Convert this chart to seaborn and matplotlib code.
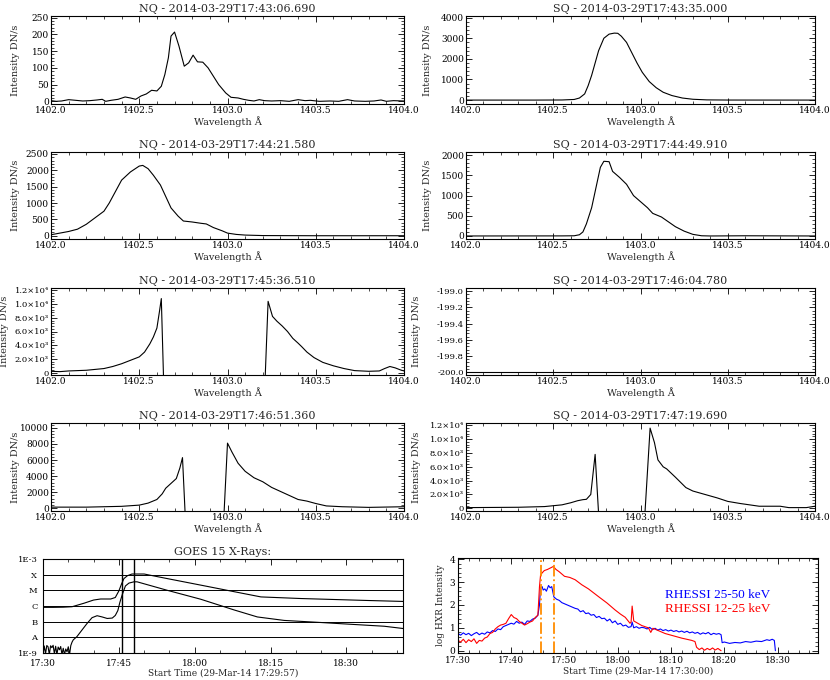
import numpy as np
import pandas as pd
import matplotlib
matplotlib.use("Agg")
import matplotlib.pyplot as plt
import seaborn as sns
from matplotlib.ticker import AutoMinorLocator, MultipleLocator, FuncFormatter, FormatStrFormatter

# %% DATA
nq1_wl = [1402.00, 1402.03, 1402.06, 1402.10, 1402.14, 1402.18, 1402.22, 1402.26, 1402.29, 1402.31,
          1402.34, 1402.38, 1402.42, 1402.45, 1402.48, 1402.51, 1402.54, 1402.57, 1402.60, 1402.625,
          1402.645, 1402.665, 1402.68, 1402.70, 1402.725, 1402.755, 1402.78, 1402.805, 1402.83, 1402.86,
          1402.89, 1402.92, 1402.95, 1402.99, 1403.02, 1403.06, 1403.09, 1403.12, 1403.15, 1403.18,
          1403.21, 1403.25, 1403.30, 1403.35, 1403.40, 1403.44, 1403.47, 1403.52, 1403.58, 1403.63,
          1403.68, 1403.72, 1403.78, 1403.83, 1403.87, 1403.90, 1403.94, 1404.00]
nq1_int = [2, 0, 1, 5, 3, 1, 2, 4, 6, 0,
           3, 6, 13, 10, 6, 16, 22, 33, 31, 45,
           80, 130, 195, 207, 165, 105, 115, 138, 118, 117,
           100, 75, 50, 25, 12, 10, 6, 3, 1, 5,
           2, 1, 2, 0, 5, 2, 3, 0, 1, 0,
           5, 1, 0, 1, 4, 0, 2, 1]

sq1_wl = [1402.00, 1402.40, 1402.55, 1402.62, 1402.65, 1402.68, 1402.70, 1402.72, 1402.74, 1402.76,
          1402.79, 1402.82, 1402.85, 1402.87, 1402.89, 1402.92, 1402.95, 1402.98, 1403.01, 1403.05,
          1403.09, 1403.13, 1403.18, 1403.24, 1403.30, 1403.38, 1403.50, 1404.00]
sq1_int = [0, 0, 5, 30, 100, 300, 700, 1200, 1800, 2400,
           3000, 3200, 3250, 3240, 3100, 2800, 2300, 1800, 1350, 900,
           600, 380, 220, 100, 40, 10, 2, 0]

nq2_wl = [1402.00, 1402.10, 1402.15, 1402.20, 1402.25, 1402.30, 1402.33, 1402.37, 1402.40, 1402.45,
          1402.50, 1402.52, 1402.55, 1402.58, 1402.62, 1402.65, 1402.68, 1402.72, 1402.75, 1402.80,
          1402.85, 1402.88, 1402.92, 1402.97, 1403.00, 1403.05, 1403.10, 1403.20, 1403.50, 1404.00]
nq2_int = [30, 130, 200, 350, 550, 750, 1000, 1400, 1700, 1950,
           2130, 2150, 2050, 1850, 1550, 1200, 850, 600, 450, 420,
           380, 360, 250, 150, 80, 40, 20, 5, 0, 0]

sq2_wl = [1402.00, 1402.55, 1402.62, 1402.65, 1402.67, 1402.69, 1402.72, 1402.745, 1402.77, 1402.79,
          1402.82, 1402.84, 1402.88, 1402.92, 1402.96, 1403.00, 1403.04, 1403.07, 1403.12, 1403.16,
          1403.20, 1403.25, 1403.30, 1403.35, 1403.40, 1403.60, 1404.00]
sq2_int = [0, 2, 5, 30, 100, 300, 700, 1200, 1700, 1850,
           1840, 1600, 1450, 1280, 1000, 850, 700, 560, 470, 350,
           230, 120, 40, 5, 0, 5, 0]

nq3_wl = [1402.00, 1402.05, 1402.10, 1402.20, 1402.30, 1402.35, 1402.40, 1402.45, 1402.50, 1402.53,
          1402.56, 1402.58, 1402.60, 1402.615, 1402.625, 1402.64, 1403.21, 1403.23, 1403.255, 1403.28,
          1403.31, 1403.34, 1403.37, 1403.40, 1403.42, 1403.45, 1403.49, 1403.54, 1403.60, 1403.66,
          1403.72, 1403.80, 1403.86, 1403.89, 1403.92, 1403.95, 1403.98, 1404.00]
nq3_int = [200, 150, 250, 350, 600, 900, 1300, 1800, 2300, 3000,
           4200, 5200, 6500, 9000, 10800, -3000, -3000, 10400, 8200, 7500,
           6800, 6000, 5000, 4300, 3800, 3000, 2200, 1500, 1000, 600,
           300, 200, 250, 600, 900, 700, 400, 250]

sq3_wl = [1402.0, 1404.0]
sq3_int = [-200.0, -200.0]

nq4_wl = [1402.00, 1402.20, 1402.40, 1402.50, 1402.55, 1402.60, 1402.63, 1402.65, 1402.68, 1402.71,
          1402.73, 1402.745, 1402.765, 1402.975, 1403.00, 1403.025, 1403.06, 1403.10, 1403.15, 1403.20,
          1403.25, 1403.30, 1403.35, 1403.40, 1403.45, 1403.50, 1403.56, 1403.65, 1403.80, 1404.00]
nq4_int = [150, 150, 250, 400, 650, 1100, 1800, 2500, 3100, 3700,
           5000, 6300, -3000, -3000, 8100, 7000, 5600, 4600, 3800, 3300,
           2600, 2100, 1600, 1100, 900, 600, 300, 200, 120, 200]

sq4_wl = [1402.00, 1402.30, 1402.45, 1402.55, 1402.60, 1402.64, 1402.67, 1402.69, 1402.715, 1402.74,
          1402.765, 1403.02, 1403.055, 1403.08, 1403.10, 1403.13, 1403.15, 1403.20, 1403.26, 1403.30,
          1403.37, 1403.44, 1403.50, 1403.57, 1403.68, 1403.80, 1403.85, 1403.95, 1404.00]
sq4_int = [100, 150, 250, 500, 800, 1100, 1250, 1300, 2000, 7800,
           -3000, -3000, 11600, 9500, 7000, 6000, 5700, 4500, 3000, 2500,
           2000, 1500, 1000, 700, 300, 300, 100, 100, 300]

# GOES 15 (minutes after 17:30)
goes_long_t = [0, 2, 4, 5.75, 8.1, 10.0, 11.4, 13.4, 14.3, 15.0, 15.5, 16.0, 16.7, 17.6, 20.0,
               24.6, 31.2, 37.8, 43.1, 51.0, 57.6, 64.2, 71.4]
goes_long = [8.2e-7, 8.2e-7, 8.4e-7, 9.0e-7, 1.5e-6, 2.4e-6, 2.8e-6, 2.8e-6, 3.5e-6, 9.1e-6, 2.4e-5,
             5.6e-5, 8.6e-5, 1.1e-4, 1.1e-4, 5.6e-5, 2.15e-5, 8.2e-6, 3.8e-6, 3.0e-6, 2.6e-6, 2.25e-6, 1.95e-6]
goes_short_t = [0, 0.25, 0.5, 0.75, 1.0, 1.25, 1.5, 1.75, 2.0, 2.25, 2.5, 2.75, 3.0, 3.25, 3.5, 3.75,
                4.0, 4.25, 4.5, 4.75, 5.0, 5.25, 5.5, 5.75, 6.0, 6.7, 7.7, 8.7, 9.7, 10.7, 11.7, 12.7,
                13.7, 14.3, 14.8, 15.2, 15.7, 16.3, 17.0, 18.0, 18.6, 24.6, 31.2, 37.8, 42.4, 47.7,
                54.3, 60.9, 67.5, 71.4]
goes_short = [8e-10, 2.8e-9, 9e-10, 3.0e-9, 2.5e-9, 8e-10, 2.9e-9, 2.2e-9, 3.1e-9, 9e-10, 2.7e-9, 8e-10,
              2.4e-9, 1.6e-9, 2.6e-9, 8e-10, 2.0e-9, 8e-10, 1.8e-9, 1.2e-9, 2.5e-9, 8e-10, 3.0e-9, 5e-9,
              7e-9, 1.1e-8, 2.9e-8, 7.6e-8, 1.8e-7, 2.4e-7, 2.0e-7, 1.6e-7, 1.7e-7, 2.5e-7, 5.1e-7,
              1.7e-6, 5.6e-6, 1.9e-5, 2.9e-5, 3.5e-5, 3.5e-5, 1.0e-5, 2.7e-6, 5.6e-7, 2.0e-7, 1.2e-7,
              9.1e-8, 6.8e-8, 5.1e-8, 3.6e-8]
goes_levels = [1e-8, 1e-7, 1e-6, 1e-5, 1e-4]
goes_ticklabels = ["1E-9", "A", "B", "C", "M", "X", "1E-3"]
goes_marks = [15.65, 17.95]

# RHESSI (minutes after 17:30, log intensity)
hxr_hi_t = [0, 0.5, 1, 1.5, 2, 2.5, 3, 3.5, 4, 4.5, 5, 5.5, 6, 6.5, 7, 7.5, 8, 8.5, 9, 9.5,
            10, 10.5, 11, 11.5, 12, 12.5, 13, 13.5, 14, 14.5, 15, 15.3, 15.5, 15.8, 16, 16.3, 16.6, 17,
            17.3, 17.6, 18, 18.5, 19, 19.5, 20, 20.5, 21, 21.5, 22, 22.5, 23, 23.5, 24, 24.5, 25,
            25.5, 26, 26.5, 27, 27.5, 28, 28.5, 29, 29.5, 30, 30.5, 31, 31.5, 32, 32.5, 32.7, 33,
            33.5, 34, 34.5, 35, 35.5, 36, 36.5, 37, 37.5, 38, 38.5, 39, 39.5, 40, 40.5, 41, 41.5,
            42, 42.5, 43, 43.5, 44, 44.5, 45, 45.5, 46, 46.5, 47, 47.5, 48, 48.5, 49, 49.4, 49.6,
            50, 51, 52, 53, 54, 55, 56, 57, 58, 58.5, 59, 59.4, 59.6]
hxr_hi = [0.75, 0.68, 0.78, 0.70, 0.76, 0.66, 0.74, 0.80, 0.70, 0.77, 0.72, 0.82, 0.78, 0.88, 0.84,
          0.95, 0.92, 1.05, 1.10, 1.15, 1.20, 1.16, 1.28, 1.20, 1.25, 1.15, 1.30, 1.28, 1.38, 1.42,
          1.55, 2.00, 2.75, 2.80, 2.65, 2.70, 2.60, 2.85, 2.75, 2.80, 2.35, 2.25, 2.20, 2.10, 2.05,
          2.00, 1.95, 1.90, 1.85, 1.82, 1.70, 1.75, 1.62, 1.65, 1.55, 1.58, 1.45, 1.50, 1.40, 1.42,
          1.30, 1.38, 1.22, 1.30, 1.15, 1.20, 1.08, 1.12, 1.02, 1.05, 1.25, 1.00, 1.05, 0.98, 1.02,
          1.00, 0.95, 1.02, 0.92, 0.98, 0.90, 0.95, 0.88, 0.92, 0.86, 0.90, 0.84, 0.88, 0.82, 0.86,
          0.80, 0.85, 0.78, 0.82, 0.76, 0.80, 0.72, 0.78, 0.74, 0.80, 0.70, 0.76, 0.72, 0.75, 0.70,
          0.35, 0.38, 0.32, 0.36, 0.34, 0.40, 0.37, 0.42, 0.40, 0.48, 0.45, 0.50, 0.45, 0.00]
hxr_lo_t = [0, 0.5, 1, 1.5, 2, 2.5, 3, 3.5, 4, 4.5, 5, 5.5, 6, 6.5, 7, 7.5, 8, 8.5, 9, 9.5,
            10, 10.5, 11, 11.5, 12, 12.5, 13, 13.5, 14, 14.5, 15, 15.3, 15.5, 15.8, 16.2, 16.8, 17.4,
            17.9, 18.4, 19, 19.5, 20, 21, 22, 23.25, 24.5, 26.4, 28, 29.5, 30.5, 31.4, 32.3, 32.5,
            32.7, 33, 34.5, 35.75, 36.2, 36.6, 38.9, 42, 43.9, 44.5, 44.8, 45.3, 45.8, 46.3, 46.8,
            47.3, 47.8, 48.3, 48.8, 49.4]
hxr_lo = [0.45, 0.38, 0.50, 0.35, 0.48, 0.40, 0.52, 0.32, 0.45, 0.42, 0.55, 0.60, 0.75, 0.80, 0.95,
          1.05, 1.12, 1.15, 1.20, 1.40, 1.58, 1.45, 1.40, 1.28, 1.20, 1.12, 1.18, 1.25, 1.30, 1.45,
          1.55, 2.80, 3.30, 3.40, 3.50, 3.55, 3.62, 3.68, 3.55, 3.45, 3.35, 3.25, 3.20, 3.10, 2.88,
          2.70, 2.36, 2.08, 1.78, 1.60, 1.46, 1.20, 1.25, 1.95, 1.30, 1.10, 1.00, 0.80, 0.98, 0.75,
          0.55, 0.45, 0.40, 0.15, 0.05, 0.12, 0.02, 0.10, 0.04, 0.12, 0.03, 0.10, 0.00]
hxr_marks = [15.6, 17.94]

titles = ["NQ - 2014-03-29T17:43:06.690", "SQ - 2014-03-29T17:43:35.000",
          "NQ - 2014-03-29T17:44:21.580", "SQ - 2014-03-29T17:44:49.910",
          "NQ - 2014-03-29T17:45:36.510", "SQ - 2014-03-29T17:46:04.780",
          "NQ - 2014-03-29T17:46:51.360", "SQ - 2014-03-29T17:47:19.690"]

# %% STYLE
sns.set_style("ticks")
plt.rcParams["font.family"] = ["DejaVu Serif"]
plt.rcParams.update({
    "xtick.direction": "in", "ytick.direction": "in",
    "xtick.top": True, "ytick.right": True,
    "xtick.major.size": 4, "ytick.major.size": 4,
    "xtick.minor.size": 2, "ytick.minor.size": 2,
    "xtick.major.width": 0.6, "ytick.major.width": 0.6,
    "xtick.minor.width": 0.5, "ytick.minor.width": 0.5,
    "axes.linewidth": 0.8, "axes.edgecolor": "black",
    "xtick.color": "black", "ytick.color": "black",
    "xtick.labelsize": 6.5, "ytick.labelsize": 6.5,
})

SUP = str.maketrans("0123456789-", "⁰¹²³⁴⁵⁶⁷⁸⁹⁻")


def sci_fmt(v, pos):
    if v == 0:
        return "0"
    e = int(np.floor(np.log10(abs(v))))
    return f"{v / 10**e:.1f}×10" + str(e).translate(SUP)


fig = plt.figure(figsize=(8.3, 6.8), dpi=100)
W, H = 830.0, 680.0


def px_axes(x0, y0, x1, y1):
    return fig.add_axes([x0 / W, 1 - y1 / H, (x1 - x0) / W, (y1 - y0) / H])


col_x = [(51, 404), (466, 815)]
row_y = [(16, 104), (152, 239), (288, 375), (423, 511)]
ylabel_px = [20, 432, 20, 432, 9, 421, 20, 421]

spectra = [(nq1_wl, nq1_int), (sq1_wl, sq1_int), (nq2_wl, nq2_int), (sq2_wl, sq2_int),
           (nq3_wl, nq3_int), (sq3_wl, sq3_int), (nq4_wl, nq4_int), (sq4_wl, sq4_int)]
ylims = [(-8, 255), (-190, 4080), (-100, 2560), (-75, 2080),
         (-340, 12340), (-200.035, -198.96), (-330, 10600), (-390, 12340)]
yticks = [np.arange(0, 251, 50), np.arange(0, 4001, 1000), np.arange(0, 2501, 500),
          np.arange(0, 2001, 500), np.arange(0, 12001, 2000), np.linspace(-200, -199, 6),
          np.arange(0, 10001, 2000), np.arange(0, 12001, 2000)]

for i, ((wl, inten), title) in enumerate(zip(spectra, titles)):
    r, c = divmod(i, 2)
    x0, x1 = col_x[c]
    ax = px_axes(x0, row_y[r][0], x1, row_y[r][1])
    df = pd.DataFrame({"wl": wl, "I": inten})
    sns.lineplot(data=df, x="wl", y="I", ax=ax, color="black", lw=0.8,
                 estimator=None, sort=False)
    ax.set_xlim(1402.0, 1404.0)
    ax.set_ylim(*ylims[i])
    ax.xaxis.set_major_locator(MultipleLocator(0.5))
    ax.xaxis.set_minor_locator(AutoMinorLocator(5))
    ax.xaxis.set_major_formatter(FormatStrFormatter("%.1f"))
    ax.set_yticks(yticks[i])
    ax.yaxis.set_minor_locator(AutoMinorLocator(5))
    if i in (4, 7):
        ax.yaxis.set_major_formatter(FuncFormatter(sci_fmt))
        ax.tick_params(axis="y", labelsize=6)
    elif i == 5:
        ax.yaxis.set_major_formatter(FormatStrFormatter("%.1f"))
        ax.tick_params(axis="y", labelsize=6)
    else:
        ax.yaxis.set_major_formatter(FormatStrFormatter("%d"))
    ax.tick_params(which="both", top=True, right=True, pad=1.5)
    ax.set_title(title, fontsize=8, pad=3)
    ax.set_xlabel("Wavelength Å", fontsize=7, labelpad=0.5)
    ax.set_ylabel("Intensity DN/s", fontsize=7)
    ax.yaxis.set_label_coords((ylabel_px[i] - x0) / (x1 - x0), 0.5)

# %% GOES panel
ax = px_axes(43, 559, 403, 653)
gl = pd.DataFrame({"t": goes_long_t, "f": goes_long})
gs = pd.DataFrame({"t": goes_short_t, "f": goes_short})
sns.lineplot(data=gl, x="t", y="f", ax=ax, color="black", lw=0.8, estimator=None, sort=False)
sns.lineplot(data=gs, x="t", y="f", ax=ax, color="black", lw=0.8, estimator=None, sort=False)
ax.set_yscale("log")
ax.set_ylim(1e-9, 1e-3)
ax.set_xlim(0, 71.2)
for lv in goes_levels:
    ax.axhline(lv, color="black", lw=0.7)
for t in goes_marks:
    ax.axvline(t, color="black", lw=1.0)
ax.set_yticks([1e-9, 1e-8, 1e-7, 1e-6, 1e-5, 1e-4, 1e-3])
ax.set_yticklabels(goes_ticklabels)
ax.yaxis.set_minor_locator(plt.NullLocator())
ax.set_xticks([0, 15, 30, 45, 60])
ax.set_xticklabels(["17:30", "17:45", "18:00", "18:15", "18:30"])
ax.xaxis.set_minor_locator(MultipleLocator(5))
ax.tick_params(which="both", top=True, right=False)
ax.tick_params(axis="x", pad=4)
ax.tick_params(axis="y", which="both", length=0, labelsize=6, pad=4)
ax.set_title("GOES 15 X-Rays:", fontsize=8, pad=3)
ax.set_xlabel("Start Time (29-Mar-14 17:29:57)", fontsize=6.5, labelpad=0.5)
ax.set_ylabel("")

# %% RHESSI panel
ax = px_axes(458, 558, 818, 653)
hh = pd.DataFrame({"t": hxr_hi_t, "v": hxr_hi})
hl = pd.DataFrame({"t": hxr_lo_t, "v": hxr_lo})
sns.lineplot(data=hh, x="t", y="v", ax=ax, color="blue", lw=0.8, estimator=None, sort=False)
sns.lineplot(data=hl, x="t", y="v", ax=ax, color="red", lw=0.8, estimator=None, sort=False)
for t in hxr_marks:
    ax.axvline(t, color="darkorange", lw=1.3, ls="-.")
ax.set_xlim(0, 67.6)
ax.set_ylim(-0.1, 4.05)
ax.set_xticks([0, 10, 20, 30, 40, 50, 60])
ax.set_xticklabels(["17:30", "17:40", "17:50", "18:00", "18:10", "18:20", "18:30"])
ax.xaxis.set_minor_locator(MultipleLocator(2))
ax.yaxis.set_major_locator(MultipleLocator(1))
ax.yaxis.set_minor_locator(AutoMinorLocator(5))
ax.tick_params(which="both", top=True, right=True, pad=2)
ax.text(38.9, 2.44, "RHESSI 25-50 keV", color="blue", fontsize=9.5, va="center",
        family=["Liberation Serif"])
ax.text(38.9, 1.81, "RHESSI 12-25 keV", color="red", fontsize=9.5, va="center",
        family=["Liberation Serif"])
ax.set_xlabel("Start Time (29-Mar-14 17:30:00)", fontsize=6.5, labelpad=1)
ax.set_ylabel("log HXR Intensity", fontsize=6.5, labelpad=3)

fig.savefig("out.png", dpi=100)
